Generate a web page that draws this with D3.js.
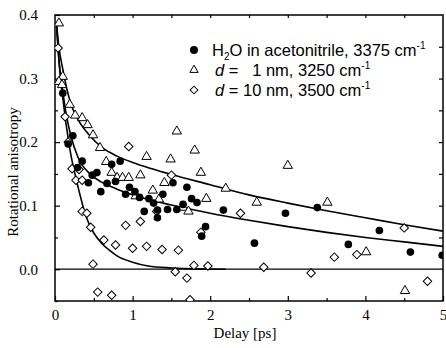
<!DOCTYPE html>
<html>
<head>
<meta charset="utf-8">
<script src="https://cdn.jsdelivr.net/npm/d3@7"></script>
<style>
  body { margin: 0; background: #fff; }
  svg { display: block; }
</style>
</head>
<body>
<div class="chart"></div>
<script>
// H2O in acetonitrile, 3375 cm-1 (filled circles)
const waterDelay = [0.10, 0.17, 0.23, 0.29, 0.35, 0.43, 0.48, 0.54, 0.59, 0.67, 0.73, 0.78, 0.84, 0.91, 0.96,
  1.03, 1.09, 1.15, 1.21, 1.27, 1.32, 1.32, 1.39, 1.45, 1.52, 1.57, 1.65, 1.70, 1.76, 1.83, 1.89, 1.94,
  2.17, 2.57, 2.97, 3.38, 3.78, 4.18, 4.58, 4.99];
const waterAniso = [0.277, 0.197, 0.21, 0.16, 0.17, 0.136, 0.148, 0.152, 0.122, 0.135, 0.165, 0.138, 0.17, 0.118, 0.129,
  0.122, 0.113, 0.091, 0.111, 0.104, 0.093, 0.081, 0.118, 0.094, 0.136, 0.094, 0.102, 0.129, 0.111, 0.105, 0.052, 0.067,
  0.093, 0.041, 0.088, 0.097, 0.039, 0.061, 0.027, 0.022];

// d = 1 nm, 3250 cm-1 (open triangles)
const d1Delay = [0.05, 0.10, 0.05, 0.09, 0.19, 0.26, 0.35, 0.42, 0.49, 0.58, 0.66, 0.73, 0.80, 0.87, 0.95,
  1.04, 1.10, 1.18, 1.26, 1.34, 1.41, 1.49, 1.57, 1.65, 1.72, 1.80, 1.88, 1.95, 2.20, 2.60, 3.00, 3.51, 4.01, 4.51];
const d1Aniso = [0.387, 0.303, 0.295, 0.29, 0.259, 0.242, 0.238, 0.227, 0.211, 0.191, 0.169, 0.152, 0.144, 0.144, 0.144,
  0.115, 0.148, 0.177, 0.124, 0.110, 0.136, 0.173, 0.217, 0.097, 0.091, 0.187, 0.152, 0.111, 0.127, 0.105, 0.163, 0.105, 0.027, -0.034];

// d = 10 nm, 3500 cm-1 (open diamonds)
const d10Delay = [0.04, 0.13, 0.17, 0.22, 0.31, 0.27, 0.35, 0.35, 0.41, 0.46, 0.63, 0.78, 0.91, 1.10, 1.00, 1.18,
  1.38, 1.59, 1.31, 1.50, 0.95, 1.88, 0.49, 1.79, 1.97, 1.55, 1.70, 0.55, 0.73, 1.74, 2.39, 2.69, 3.30, 3.60, 3.89, 4.50, 4.80];
const d10Aniso = [0.348, 0.24, 0.20, 0.158, 0.157, 0.14, 0.14, 0.091, 0.088, 0.066, 0.046, 0.038, 0.069, 0.075, 0.033, 0.036,
  0.031, 0.030, 0.091, 0.148, 0.193, 0.058, 0.008, 0.006, 0.005, -0.004, -0.014, -0.036, -0.041, -0.048, 0.088, 0.003, -0.006, 0.019, 0.023, 0.065, -0.019];

// fit curves
const fitDelay = [0.02, 0.05, 0.1, 0.15, 0.2, 0.3, 0.45, 0.6, 0.8, 1.0, 1.25, 1.5, 2.0, 2.5, 3.0, 3.5, 4.0, 4.5, 5.0];
const fitD1 = [0.385, 0.35, 0.315, 0.285, 0.262, 0.235, 0.21, 0.192, 0.178, 0.168, 0.158, 0.149, 0.133, 0.117, 0.104, 0.092, 0.081, 0.07, 0.06];
const fitWater = [0.385, 0.33, 0.28, 0.24, 0.212, 0.175, 0.15, 0.137, 0.126, 0.117, 0.108, 0.101, 0.088, 0.077, 0.067, 0.058, 0.05, 0.043, 0.036];
const fitD10Delay = [0.02, 0.05, 0.1, 0.19, 0.3, 0.4, 0.5, 0.6, 0.7, 0.8, 1.0, 1.2, 1.5, 1.8, 2.2];
const fitD10 = [0.385, 0.33, 0.27, 0.19, 0.128, 0.083, 0.057, 0.041, 0.03, 0.021, 0.011, 0.005, 0.002, 0.0005, 0];

const xTicks = [0, 1, 2, 3, 4, 5];
const yTicks = [0.0, 0.1, 0.2, 0.3, 0.4];

const width = 446, height = 348;
const margin = { top: 15, right: 3, bottom: 47, left: 55 };

const svg = d3.select('.chart')
  .append('svg')
  .attr('width', width)
  .attr('height', height);

const x = d3.scaleLinear().domain([0, 5]).range([margin.left, width - margin.right]);
const y = d3.scaleLinear().domain([-0.05, 0.4]).range([height - margin.bottom, margin.top]);

const serif = '"Liberation Serif", "Times New Roman", serif';
const sans = '"Liberation Sans", Arial, sans-serif';

svg.append('defs').append('clipPath').attr('id', 'plot')
  .append('rect')
  .attr('x', x(0)).attr('y', y(0.4))
  .attr('width', x(5) - x(0)).attr('height', y(-0.05) - y(0.4));

// zero line
svg.append('line')
  .attr('x1', x(0)).attr('x2', x(5))
  .attr('y1', y(0)).attr('y2', y(0))
  .attr('stroke', '#000').attr('stroke-width', 1.2);

// axes with inward ticks
function styleAxis(g) {
  g.select('.domain').remove();
  g.selectAll('line').attr('stroke', '#000').attr('stroke-width', 1.2);
  g.selectAll('text').attr('font-family', serif).attr('font-size', 15).attr('fill', '#000');
}

svg.append('g')
  .attr('transform', `translate(0,${y(-0.05)})`)
  .call(d3.axisBottom(x).tickValues(xTicks).tickSize(-5).tickPadding(8).tickFormat(d3.format('d')))
  .call(styleAxis);
svg.append('g')
  .attr('transform', `translate(0,${y(-0.05)})`)
  .call(d3.axisBottom(x).tickValues([0.5, 1.5, 2.5, 3.5, 4.5]).tickSize(-3).tickFormat(''))
  .call(styleAxis);
svg.append('g')
  .attr('transform', `translate(0,${y(0.4)})`)
  .call(d3.axisTop(x).tickValues(d3.range(0.5, 5, 0.5)).tickSize(-3).tickFormat(''))
  .call(styleAxis);

svg.append('g')
  .attr('transform', `translate(${x(0)},0)`)
  .call(d3.axisLeft(y).tickValues(yTicks).tickSize(-5).tickPadding(17).tickFormat(d3.format('.1f')))
  .call(styleAxis);
svg.append('g')
  .attr('transform', `translate(${x(0)},0)`)
  .call(d3.axisLeft(y).tickValues([-0.05, 0.05, 0.15, 0.25, 0.35]).tickSize(-3).tickFormat(''))
  .call(styleAxis);
svg.append('g')
  .attr('transform', `translate(${x(5)},0)`)
  .call(d3.axisRight(y).tickValues([0.05, 0.1, 0.15, 0.2, 0.25, 0.3, 0.35]).tickSize(-4).tickFormat(''))
  .call(styleAxis);

// frame
svg.append('rect')
  .attr('x', x(0)).attr('y', y(0.4))
  .attr('width', x(5) - x(0)).attr('height', y(-0.05) - y(0.4))
  .attr('fill', 'none').attr('stroke', '#000').attr('stroke-width', 1.5);

// fit curves
const line = d3.line().x(d => x(d[0])).y(d => y(d[1])).curve(d3.curveMonotoneX);
const plot = svg.append('g').attr('clip-path', 'url(#plot)');
[[fitDelay, fitD1], [fitDelay, fitWater], [fitD10Delay, fitD10]].forEach(([xs, ys]) => {
  plot.append('path')
    .attr('d', line(xs.map((v, i) => [v, ys[i]])))
    .attr('fill', 'none').attr('stroke', '#000').attr('stroke-width', 1.6);
});

// markers
const tri = d3.symbol().type(d3.symbolTriangle).size(38);
const dia = d3.symbol().type(d3.symbolSquare).size(36);
const dot = d3.symbol().type(d3.symbolCircle).size(46);

plot.selectAll('.d10')
  .data(d10Delay.map((v, i) => [v, d10Aniso[i]]))
  .enter().append('path')
  .attr('class', 'd10')
  .attr('d', dia)
  .attr('transform', d => `translate(${x(d[0])},${y(d[1])}) rotate(45)`)
  .attr('fill', '#fff').attr('stroke', '#000').attr('stroke-width', 1);

plot.selectAll('.d1')
  .data(d1Delay.map((v, i) => [v, d1Aniso[i]]))
  .enter().append('path')
  .attr('class', 'd1')
  .attr('d', tri)
  .attr('transform', d => `translate(${x(d[0])},${y(d[1])})`)
  .attr('fill', '#fff').attr('stroke', '#000').attr('stroke-width', 1);

plot.selectAll('.water')
  .data(waterDelay.map((v, i) => [v, waterAniso[i]]))
  .enter().append('path')
  .attr('class', 'water')
  .attr('d', dot)
  .attr('transform', d => `translate(${x(d[0])},${y(d[1])})`)
  .attr('fill', '#000');

// axis titles
svg.append('text')
  .attr('x', (x(0) + x(5)) / 2 - 4).attr('y', 338)
  .attr('text-anchor', 'middle')
  .attr('font-family', serif).attr('font-size', 15)
  .text('Delay [ps]');
svg.append('text')
  .attr('transform', 'translate(18,172) rotate(-90)')
  .attr('text-anchor', 'middle')
  .attr('font-family', serif).attr('font-size', 15)
  .text('Rotational anisotropy');

// legend
const legend = svg.append('g').attr('font-family', sans).attr('font-size', 16.5);
const lx = 194, tx = 212;
const rows = [50, 70, 90];

legend.append('path').attr('d', d3.symbol().type(d3.symbolCircle).size(50))
  .attr('transform', `translate(${lx},${rows[0]})`).attr('fill', '#000');
legend.append('path').attr('d', d3.symbol().type(d3.symbolTriangle).size(30))
  .attr('transform', `translate(${lx},${rows[1]})`).attr('fill', 'none').attr('stroke', '#000');
legend.append('path').attr('d', d3.symbol().type(d3.symbolSquare).size(30))
  .attr('transform', `translate(${lx},${rows[2]}) rotate(45)`).attr('fill', 'none').attr('stroke', '#000');

const t1 = legend.append('text').attr('x', tx).attr('y', rows[0] + 6);
t1.append('tspan').text('H');
t1.append('tspan').attr('font-size', 10).attr('dy', 4).text('2');
t1.append('tspan').attr('dy', -4).text('O in acetonitrile, 3375 cm');
t1.append('tspan').attr('font-size', 10).attr('dy', -7).text('-1');

const t2 = legend.append('text').attr('x', tx + 3).attr('y', rows[1] + 6).style('white-space', 'pre');
t2.append('tspan').attr('font-style', 'italic').text('d');
t2.append('tspan').text(' =   1 nm, 3250 cm');
t2.append('tspan').attr('font-size', 10).attr('dy', -7).text('-1');

const t3 = legend.append('text').attr('x', tx + 3).attr('y', rows[2] + 6).style('white-space', 'pre');
t3.append('tspan').attr('font-style', 'italic').text('d');
t3.append('tspan').text(' = 10 nm, 3500 cm');
t3.append('tspan').attr('font-size', 10).attr('dy', -7).text('-1');
</script>
</body>
</html>
